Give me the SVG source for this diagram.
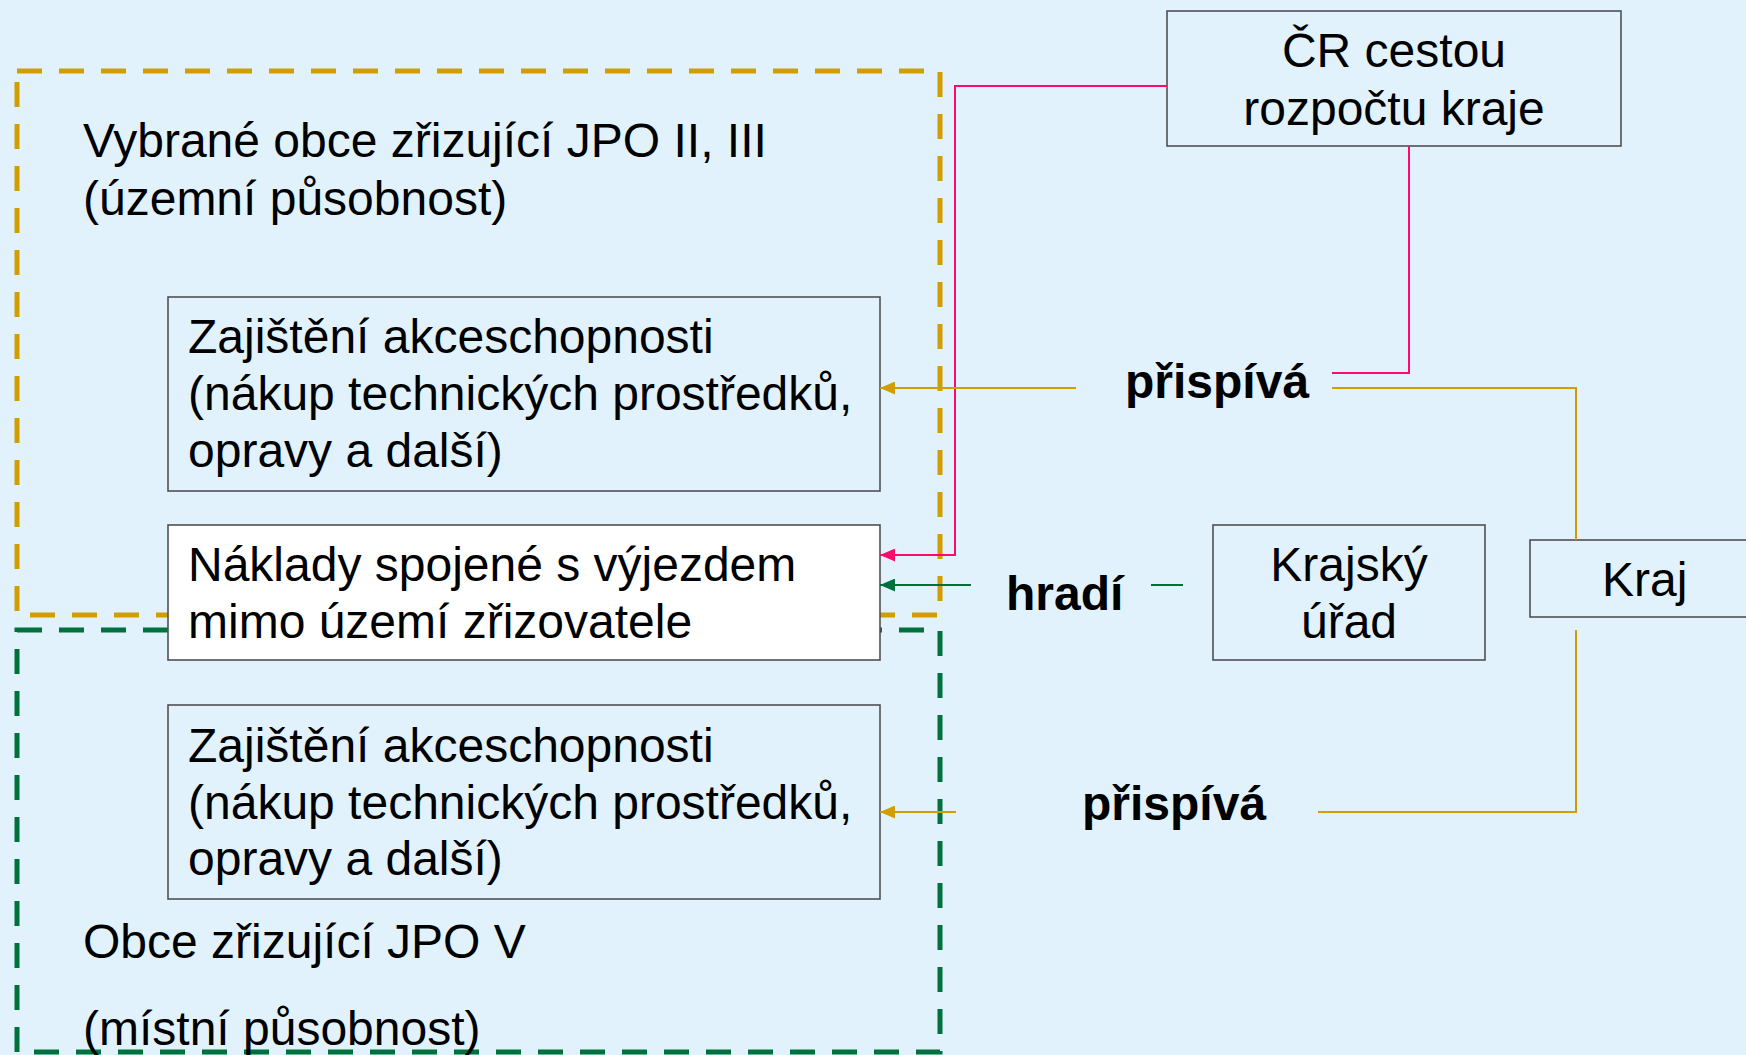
<svg xmlns="http://www.w3.org/2000/svg" width="1746" height="1055" viewBox="0 0 1746 1055">
<defs>
<style>
text{font-family:"Liberation Sans",Arial,sans-serif;font-size:48px;fill:#000}
.b{font-weight:bold}
.box{fill:none;stroke:#505050;stroke-width:1.6}
.dash{fill:none;stroke-width:5;stroke-dasharray:25 17}
.c{fill:none;stroke-width:2}
.or{stroke:#D09E00}
.gr{stroke:#00703C}
.pk{stroke:#FF0A6C}
</style>
<marker id="ao" markerUnits="userSpaceOnUse" markerWidth="16" markerHeight="13" refX="15" refY="6.5" orient="auto"><path d="M0,0 L15,6.5 L0,13 z" fill="#D09E00"/></marker>
<marker id="ag" markerUnits="userSpaceOnUse" markerWidth="16" markerHeight="13" refX="15" refY="6.5" orient="auto"><path d="M0,0 L15,6.5 L0,13 z" fill="#00703C"/></marker>
<marker id="ap" markerUnits="userSpaceOnUse" markerWidth="16" markerHeight="13" refX="15" refY="6.5" orient="auto"><path d="M0,0 L15,6.5 L0,13 z" fill="#FF0A6C"/></marker>
</defs>
<rect width="1746" height="1055" fill="#E1F2FD"/>

<g id="group-orange">
<rect class="dash or" x="17" y="71" width="923" height="544"/>
<text x="83" y="157">Vybrané obce zřizující JPO II, III</text>
<text x="83" y="215">(územní působnost)</text>
</g>
<g id="group-green">
<rect class="dash gr" x="17" y="630" width="923" height="422"/>
<text x="83" y="958">Obce zřizující JPO V</text>
<text x="83" y="1045">(místní působnost)</text>
</g>

<g id="box-akce1">
<rect class="box" x="168" y="297" width="712" height="194"/>
<text x="188" y="353">Zajištění akceschopnosti</text>
<text x="188" y="410">(nákup technických prostředků,</text>
<text x="188" y="467">opravy a další)</text>
</g>
<g id="box-naklady">
<rect class="box" x="168" y="525" width="712" height="135" fill="#FFFFFF" style="fill:#FFFFFF"/>
<text x="188" y="581">Náklady spojené s výjezdem</text>
<text x="188" y="638">mimo území zřizovatele</text>
</g>
<g id="box-akce2">
<rect class="box" x="168" y="705" width="712" height="194"/>
<text x="188" y="762">Zajištění akceschopnosti</text>
<text x="188" y="819">(nákup technických prostředků,</text>
<text x="188" y="875">opravy a další)</text>
</g>
<g id="box-cr">
<rect class="box" x="1167" y="11" width="454" height="135"/>
<text x="1394" y="67" text-anchor="middle">ČR cestou</text>
<text x="1394" y="125" text-anchor="middle">rozpočtu kraje</text>
</g>
<g id="box-ku">
<rect class="box" x="1213" y="525" width="272" height="135"/>
<text x="1349" y="581" text-anchor="middle">Krajský</text>
<text x="1349" y="638" text-anchor="middle">úřad</text>
</g>
<g id="box-kraj">
<rect class="box" x="1530" y="540" width="230" height="77"/>
<text x="1602" y="596">Kraj</text>
</g>

<g id="connectors">
<path class="c pk" d="M1167,86 H955 V555 H880" marker-end="url(#ap)"/>
<path class="c pk" d="M1409,146 V373 H1332"/>
<path class="c or" d="M1076,388 H880" marker-end="url(#ao)"/>
<path class="c or" d="M1332,388 H1576 V540"/>
<path class="c gr" d="M971,585 H880" marker-end="url(#ag)"/>
<path class="c gr" d="M1151,585 H1183"/>
<path class="c or" d="M1576,630 V812 H1318"/>
<path class="c or" d="M956,812 H880" marker-end="url(#ao)"/>
</g>

<g id="labels">
<text class="b" x="1125" y="398">přispívá</text>
<text class="b" x="1006" y="610">hradí</text>
<text class="b" x="1082" y="820">přispívá</text>
</g>
</svg>
